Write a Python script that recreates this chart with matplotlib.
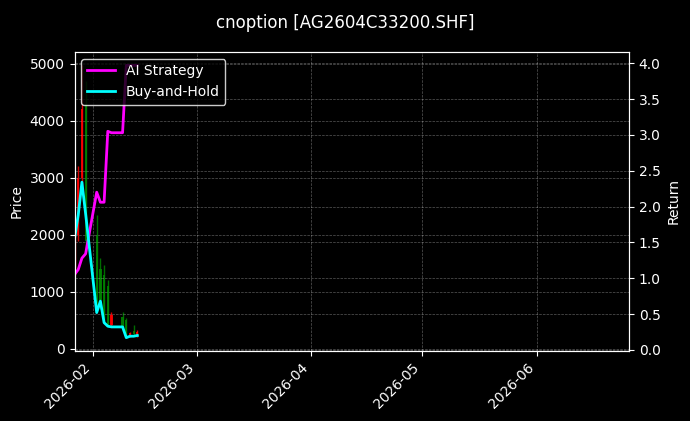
import matplotlib
matplotlib.use("Agg")
import matplotlib.pyplot as plt
import matplotlib.dates as mdates
import pandas as pd
import numpy as np

plt.style.use("dark_background")

title = "cnoption [AG2604C33200.SHF]"
dates = pd.to_datetime([
    "2026-01-27", "2026-01-28", "2026-01-29", "2026-01-30",
    "2026-02-02", "2026-02-03", "2026-02-04", "2026-02-05", "2026-02-06",
    "2026-02-09", "2026-02-10", "2026-02-11", "2026-02-12", "2026-02-13",
])
opens  = [1600, 2000, 3000, 4300, 2000, 1400, 1300, 1100, 420, 560, 500, 230, 320, 240]
highs  = [2100, 3200, 4969, 4700, 2350, 1590, 1470, 1200, 650, 650, 550, 300, 420, 330]
lows   = [1300, 1900, 2700, 1700, 700, 700, 450, 380, 380, 320, 200, 210, 230, 208]
closes = [2000, 3000, 4200, 1900, 800, 850, 500, 420, 600, 380, 250, 280, 260, 300]

ai_strategy = [1.05, 1.12, 1.28, 1.34, 2.20, 2.06, 2.06, 3.05, 3.03, 3.03, 3.97, 3.97, 3.97, 3.97]
buy_hold    = [1.55, 1.88, 2.34, 1.90, 0.52, 0.68, 0.38, 0.33, 0.32, 0.32, 0.17, 0.19, 0.19, 0.20]

x_start = pd.Timestamp("2026-01-27")
x_end = pd.Timestamp("2026-06-26")

fig = plt.figure(figsize=(6.9, 4.21), dpi=100, facecolor="black")
ax = fig.add_axes([0.108, 0.167, 0.8036, 0.710])
ax.set_facecolor("black")

for d, o, h, l, c in zip(dates, opens, highs, lows, closes):
    col = "red" if c >= o else "green"
    ax.vlines(d, l, h, color=col, linewidth=1, alpha=0.85)
    ax.bar(d, abs(c - o), bottom=min(o, c), width=0.6, color=col, alpha=0.9, linewidth=0)

ax.set_ylabel("Price", color="white")
ax.set_xlim(x_start, x_end)
ax.set_ylim(-30, 5207)
ax.grid(True, linestyle="--", linewidth=0.5, alpha=0.35)
ax.xaxis.set_major_locator(mdates.MonthLocator())
ax.xaxis.set_major_formatter(mdates.DateFormatter("%Y-%m"))
plt.setp(ax.get_xticklabels(), rotation=45, ha="right")

ax2 = ax.twinx()
ax2.plot(dates, ai_strategy, color="magenta", linewidth=2, label="AI Strategy")
ax2.plot(dates, buy_hold, color="cyan", linewidth=2, label="Buy-and-Hold")
ax2.set_ylabel("Return", color="white")
ax2.set_ylim(-0.012, 4.16)
ax2.grid(True, linestyle="--", linewidth=0.5, alpha=0.35)
leg = ax2.legend(loc="upper left", facecolor="black", edgecolor="white", framealpha=0.8)

fig.suptitle(title, color="white", fontsize=12, y=0.967)
fig.savefig("out.png", dpi=100, facecolor="black")
